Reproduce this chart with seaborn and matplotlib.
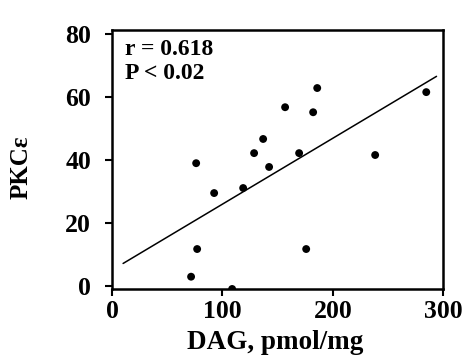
import numpy as np
import pandas as pd
import matplotlib
matplotlib.use('Agg')
import matplotlib.pyplot as plt
import seaborn as sns

# values
dag = [71.6, 77.1, 76.2, 92.5, 108.8, 118.8, 128.7, 136.9, 142.3,
       156.8, 169.5, 175.9, 182.2, 185.9, 238.4, 284.7]
pkc = [2.9, 11.7, 39.0, 29.5, -1.0, 31.1, 42.2, 46.7, 37.8,
       56.8, 42.2, 11.7, 55.2, 62.9, 41.6, 61.6]
x_ticks = [0, 100, 200, 300]
y_ticks = [0, 20, 40, 60, 80]
stats_text = "r = 0.618\nP < 0.02"

df = pd.DataFrame({"DAG": dag, "PKC": pkc})

# plain black-on-white, like the printed figure
sns.set_style("ticks", {"axes.edgecolor": "black", "text.color": "black",
                        "axes.labelcolor": "black", "xtick.color": "black",
                        "ytick.color": "black"})
plt.rcParams['font.family'] = ['Liberation Serif', 'DejaVu Serif']
plt.rcParams['font.weight'] = 'bold'

fig = plt.figure(figsize=(4.65, 3.55), dpi=100)
ax = fig.add_axes([0.241, 0.186, 0.712, 0.729])

sns.scatterplot(data=df, x="DAG", y="PKC", ax=ax, color="black",
                s=32, edgecolor="none", legend=False)

# least squares line, drawn across most of the axis
slope, icpt = np.polyfit(df["DAG"], df["PKC"], 1)
line_x = np.array([10, 294])
ax.plot(line_x, icpt + slope * line_x, color="black", lw=1.1)

ax.set_xlim(0, 300)
ax.set_ylim(-1, 81.3)
ax.set_xticks(x_ticks)
ax.set_yticks(y_ticks)
for sp in ax.spines.values():
    sp.set_linewidth(1.8)
    sp.set_visible(True)
ax.tick_params(direction="out", length=5, width=1.5, labelsize=18.5,
               top=False, right=False)
ax.tick_params(axis="x", pad=3)
ax.tick_params(axis="y", pad=10)
for lbl in ax.get_xticklabels() + ax.get_yticklabels():
    lbl.set_fontweight("bold")

ax.set_xlabel("DAG, pmol/mg", fontsize=19.5, fontweight="bold")
ax.set_ylabel("PKCε", fontsize=18, fontweight="bold")
ax.xaxis.set_label_coords(0.492, -0.16)
ax.yaxis.set_label_coords(-0.24, 0.47)

ax.text(0.039, 0.965, stats_text, transform=ax.transAxes, va="top",
        ha="left", fontsize=17, fontweight="bold", linespacing=1.2)

fig.savefig("out.png", dpi=100)
